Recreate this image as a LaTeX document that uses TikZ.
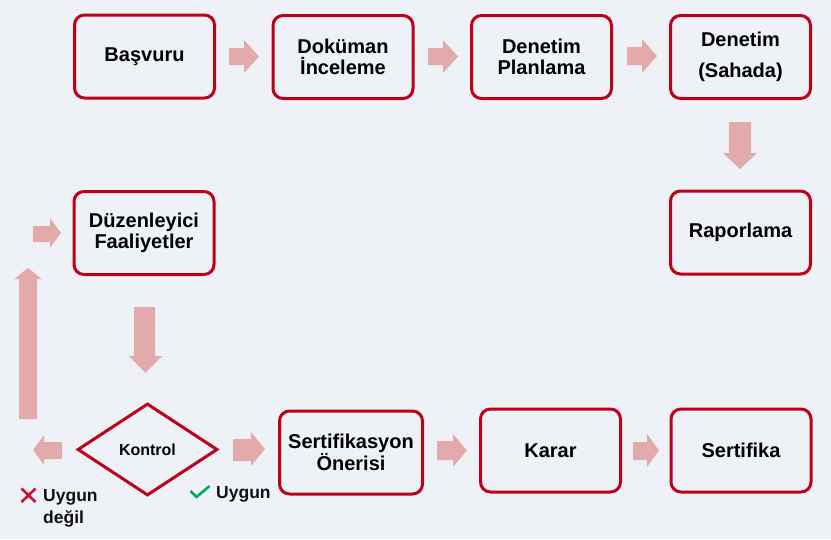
\documentclass[tikz,border=0pt]{standalone}
\usepackage{fontspec}
\setmainfont{Liberation Sans}
\usetikzlibrary{shapes.geometric}
\definecolor{bgc}{HTML}{EEF2F7}
\definecolor{boxred}{HTML}{C00018}
\definecolor{arrpink}{HTML}{E2AAAA}
\definecolor{okgreen}{HTML}{00B050}
\definecolor{xred}{HTML}{D0102A}
\tikzset{
  stepbox/.style={draw=boxred, line width=3pt, rounded corners=10pt, minimum width=140pt, minimum height=83pt, align=center, font=\bfseries\fontsize{20}{21}\selectfont, inner sep=0pt},
  blockarr/.style={fill=arrpink, draw=none},
  decision/.style={diamond, draw=boxred, line width=3pt, minimum width=140pt, minimum height=92pt, inner sep=0pt, font=\bfseries\fontsize{16}{18}\selectfont},
  lbl/.style={font=\bfseries\fontsize{17.5}{20}\selectfont, inner sep=0pt, anchor=base west, text=black!93},
  markline/.style={line width=2.6pt},
}
\begin{document}
\begin{tikzpicture}[x=1pt,y=-1pt]
\useasboundingbox (0,0) rectangle (831,539);
\fill[bgc] (0,0) rectangle (831,539);

% boxes
\node[stepbox] (basvuru) at (144.5,56.5) {Başvuru};
\node[stepbox] (dokuman) at (343,57) {Doküman\\İnceleme};
\node[stepbox] (planlama) at (541.5,57) {Denetim\\Planlama};
\node[stepbox] (sahada) at (740.5,57) {Denetim\\[10pt](Sahada)};
\node[stepbox] (rapor) at (740.5,232.5) {Raporlama};
\node[stepbox] (duzen) at (144,233) {Düzenleyici\\Faaliyetler};
\node[stepbox, minimum width=143pt] (oneri) at (351,452.5) {Sertifikasyon\\Önerisi};
\node[stepbox] (karar) at (550.5,450.5) {Karar};
\node[stepbox] (sertifika) at (741,450.5) {Sertifika};
\node[decision] (kontrol) at (147.5,449.5) {Kontrol};

% block arrows
\fill[blockarr] (229,48)--(244,48)--(244,40)--(259,56.5)--(244,73)--(244,65)--(229,65)--cycle;
\fill[blockarr] (428,48)--(443,48)--(443,40)--(458,56.5)--(443,73)--(443,65)--(428,65)--cycle;
\fill[blockarr] (627,47)--(642,47)--(642,39)--(657,56)--(642,73)--(642,65)--(627,65)--cycle;
\fill[blockarr] (729,122)--(751,122)--(751,153)--(757,153)--(740,169)--(723,153)--(729,153)--cycle;
\fill[blockarr] (134,307)--(155,307)--(155,356)--(162,356)--(145.5,373)--(129,356)--(134,356)--cycle;
\fill[blockarr] (19,419)--(37,419)--(37,279)--(42,279)--(28,268)--(14,279)--(19,279)--cycle;
\fill[blockarr] (33,226)--(50,226)--(50,218)--(61,233)--(50,248)--(50,242)--(33,242)--cycle;
\fill[blockarr] (62,442)--(44,442)--(44,435)--(33,450)--(44,465)--(44,459)--(62,459)--cycle;
\fill[blockarr] (233,439)--(251,439)--(251,432)--(265,449)--(251,466)--(251,461)--(233,461)--cycle;
\fill[blockarr] (437,441)--(453,441)--(453,434)--(467,450.5)--(453,467)--(453,460)--(437,460)--cycle;
\fill[blockarr] (633,442)--(647,442)--(647,434)--(659,450.5)--(647,467)--(647,460)--(633,460)--cycle;

% labels
\draw[markline, xred] (21.5,488.5)--(35.5,502) (21.5,502)--(35.5,488.5);
\node[lbl] (nok1) at (43,501) {Uygun};
\node[lbl] (nok2) at (43,523) {değil};
\draw[markline, okgreen] (190.5,491)--(196.5,497)--(209.5,486);
\node[lbl] (ok) at (216,498) {Uygun};
\end{tikzpicture}
\end{document}
